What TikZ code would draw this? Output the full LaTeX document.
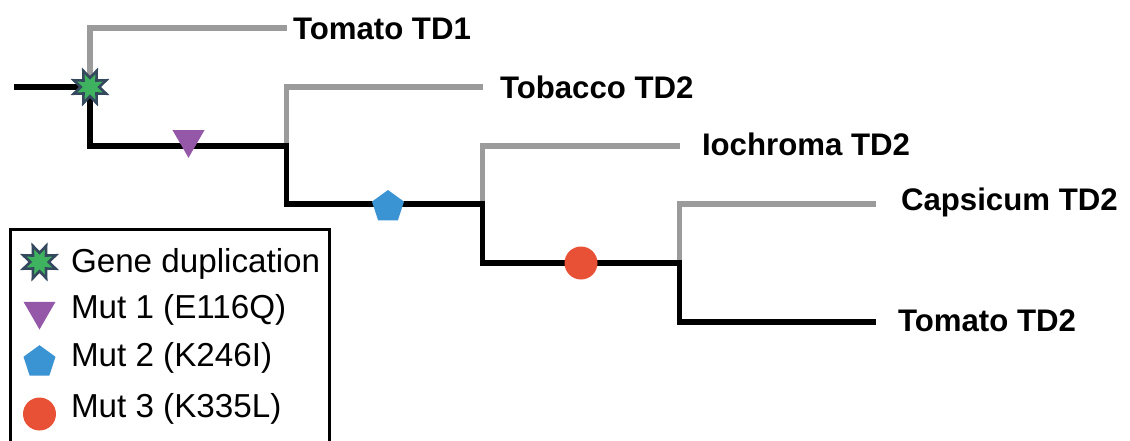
\documentclass[tikz,border=0pt]{standalone}
\usepackage{fontspec}
\setmainfont{Liberation Sans}
\usetikzlibrary{shapes.geometric}
\definecolor{branchgrey}{HTML}{9B9B9B}
\definecolor{stardark}{HTML}{34495E}
\definecolor{stargreen}{HTML}{3FB25F}
\definecolor{mutpurple}{HTML}{9558A8}
\definecolor{mutblue}{HTML}{3A93D2}
\definecolor{mutred}{HTML}{E95136}
\tikzset{
  x=1pt,y=-1pt,
  lost/.style={draw=branchgrey,line width=5.3pt,line join=miter},
  kept/.style={draw=black,line width=5.3pt,line join=miter},
  species/.style={anchor=base west,font=\fontsize{31.2}{36}\selectfont\bfseries,inner sep=0pt,outer sep=0pt},
  legendtext/.style={anchor=base west,font=\fontsize{33.2}{38}\selectfont,inner sep=0pt,outer sep=0pt},
  dupmark/.style={star,star points=8,star point ratio=1.9,minimum size=35pt,inner sep=0pt,shape border rotate=22.5,draw=stardark,line width=2.6pt,fill=stargreen},
  muta/.style={regular polygon,regular polygon sides=3,shape border rotate=180,minimum size=37pt,inner sep=0pt,fill=mutpurple},
  mutb/.style={regular polygon,regular polygon sides=5,minimum size=33.6pt,inner sep=0pt,fill=mutblue},
  mutc/.style={circle,minimum size=33pt,inner sep=0pt,fill=mutred},
}
\begin{document}
\begin{tikzpicture}
\useasboundingbox (0,0) rectangle (1130,440);
\coordinate (root) at (14,87);
\coordinate (a) at (90,87);
\coordinate (at) at (90,28);
\coordinate (atip) at (287,28);
\coordinate (ab) at (90,146);
\coordinate (b) at (286.8,146);
\coordinate (bt) at (286.8,87);
\coordinate (btip) at (483,87);
\coordinate (bb) at (286.8,204);
\coordinate (c) at (482.8,204);
\coordinate (ct) at (482.8,146);
\coordinate (ctip) at (679.5,146);
\coordinate (cb) at (482.8,263);
\coordinate (d) at (679.5,263);
\coordinate (dt) at (679.5,204);
\coordinate (dtip) at (876,204);
\coordinate (db) at (679.5,322);
\coordinate (dbtip) at (876,322);

\draw[lost] (a) -- (at) -- (atip);
\draw[lost] (b) -- (bt) -- (btip);
\draw[lost] (c) -- (ct) -- (ctip);
\draw[lost] (d) -- (dt) -- (dtip);
\draw[kept] (root) -- (a) -- (ab) -- (b) -- (bb) -- (c) -- (cb) -- (d) -- (db) -- (dbtip);

\node[dupmark] (gd) at (90,87) {};
\node[muta] (m1) at (188.5,139.3) {};
\node[mutb] (m2) at (388,206.8) {};
\node[mutc] (m3) at (581,263) {};

\node[species] (l1) at (293,39) {Tomato TD1};
\node[species] (l2) at (500,98) {Tobacco TD2};
\node[species] (l3) at (702,155) {Iochroma TD2};
\node[species] (l4) at (901,210.6) {Capsicum TD2};
\node[species] (l5) at (898,331) {Tomato TD2};

\draw[black,line width=3pt] (10,445) -- (10,229.5) -- (329.5,229.5) -- (329.5,445);
\node[dupmark] (k0) at (39.5,262) {};
\node[muta] (k1) at (39.5,311) {};
\node[mutb] (k2) at (39.5,362) {};
\node[mutc] (k3) at (39.5,414) {};
\node[legendtext] (t0) at (71,272) {Gene duplication};
\node[legendtext] (t1) at (71,318) {Mut 1 (E116Q)};
\node[legendtext] (t2) at (71,366) {Mut 2 (K246I)};
\node[legendtext] (t3) at (71,417) {Mut 3 (K335L)};
\end{tikzpicture}
\end{document}
